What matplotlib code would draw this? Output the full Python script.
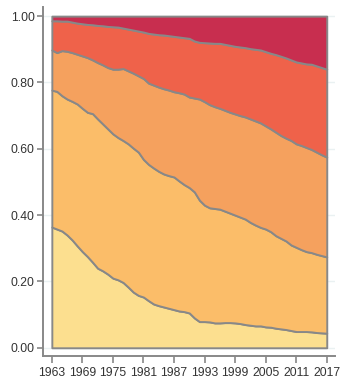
import numpy as np
import matplotlib.pyplot as plt

years = np.arange(1963, 2018)

# cumulative shares (upper edge of each band)
upto_1 = [0.364, 0.358, 0.352, 0.340, 0.325, 0.307, 0.290, 0.275, 0.258, 0.240,
          0.232, 0.222, 0.210, 0.205, 0.197, 0.183, 0.168, 0.158, 0.153, 0.142,
          0.132, 0.127, 0.123, 0.119, 0.115, 0.111, 0.109, 0.105, 0.090, 0.079,
          0.079, 0.078, 0.075, 0.075, 0.076, 0.076, 0.075, 0.073, 0.070, 0.068,
          0.066, 0.066, 0.063, 0.062, 0.059, 0.057, 0.055, 0.052, 0.049, 0.049,
          0.049, 0.048, 0.046, 0.045, 0.044]
upto_2 = [0.777, 0.773, 0.760, 0.750, 0.743, 0.735, 0.722, 0.710, 0.706, 0.690,
          0.675, 0.660, 0.645, 0.634, 0.625, 0.615, 0.602, 0.590, 0.568, 0.553,
          0.542, 0.532, 0.524, 0.519, 0.515, 0.503, 0.492, 0.483, 0.470, 0.445,
          0.430, 0.422, 0.420, 0.418, 0.412, 0.406, 0.400, 0.394, 0.388, 0.378,
          0.370, 0.363, 0.358, 0.350, 0.338, 0.330, 0.322, 0.310, 0.303, 0.296,
          0.290, 0.287, 0.282, 0.278, 0.274]
upto_3 = [0.898, 0.890, 0.896, 0.894, 0.890, 0.885, 0.880, 0.875, 0.868, 0.860,
          0.853, 0.845, 0.840, 0.840, 0.842, 0.835, 0.828, 0.820, 0.812, 0.798,
          0.792, 0.786, 0.781, 0.777, 0.772, 0.769, 0.765, 0.756, 0.753, 0.750,
          0.742, 0.733, 0.727, 0.722, 0.716, 0.710, 0.705, 0.700, 0.696, 0.690,
          0.684, 0.678, 0.669, 0.660, 0.650, 0.640, 0.632, 0.625, 0.615, 0.610,
          0.604, 0.598, 0.590, 0.582, 0.575]
upto_4 = [0.986, 0.986, 0.985, 0.985, 0.982, 0.979, 0.977, 0.975, 0.974, 0.972,
          0.971, 0.969, 0.968, 0.967, 0.964, 0.961, 0.958, 0.955, 0.952, 0.948,
          0.946, 0.944, 0.943, 0.941, 0.939, 0.937, 0.935, 0.933, 0.925, 0.921,
          0.920, 0.919, 0.918, 0.918, 0.915, 0.912, 0.909, 0.907, 0.905, 0.902,
          0.900, 0.898, 0.893, 0.888, 0.884, 0.879, 0.874, 0.868, 0.862, 0.859,
          0.856, 0.855, 0.850, 0.845, 0.840]
upto_5 = [1.0] * len(years)

colors = ['#FCDF8F', '#FBBD69', '#F5A15E', '#EF624A', '#C82E4F']
xticks = np.arange(1963, 2018, 6)
yticks = [0.0, 0.2, 0.4, 0.6, 0.8, 1.0]

cum = np.vstack([np.zeros(len(years)), upto_1, upto_2, upto_3, upto_4, upto_5])
layers = np.diff(cum, axis=0)

plt.rcParams['font.family'] = ['Liberation Sans', 'DejaVu Sans']

fig = plt.figure(figsize=(3.4, 3.78), dpi=100)
ax = fig.add_axes([0.127, 0.058, 0.858, 0.923])

ax.yaxis.grid(True, color='#eaf1f2', linewidth=1, zorder=0)
ax.set_axisbelow(True)
ax.stackplot(years, layers, colors=colors, edgecolor='#888888', linewidth=1.4, zorder=2)

ax.set_xlim(1961.3, 2018.6)
ax.set_ylim(-0.025, 1.027)
ax.set_xticks(xticks)
ax.set_yticks(yticks)
ax.set_yticklabels([f'{v:.2f}' for v in yticks])

for side in ['top', 'right']:
    ax.spines[side].set_visible(False)
for side in ['left', 'bottom']:
    ax.spines[side].set_color('#888888')
    ax.spines[side].set_linewidth(1.4)

ax.tick_params(colors='#888888', width=1.2, labelsize=8.7, labelcolor='#333333')
ax.tick_params(axis='y', length=4, pad=2)
ax.tick_params(axis='x', length=5, pad=3.2)

fig.savefig('out.png', dpi=100)
